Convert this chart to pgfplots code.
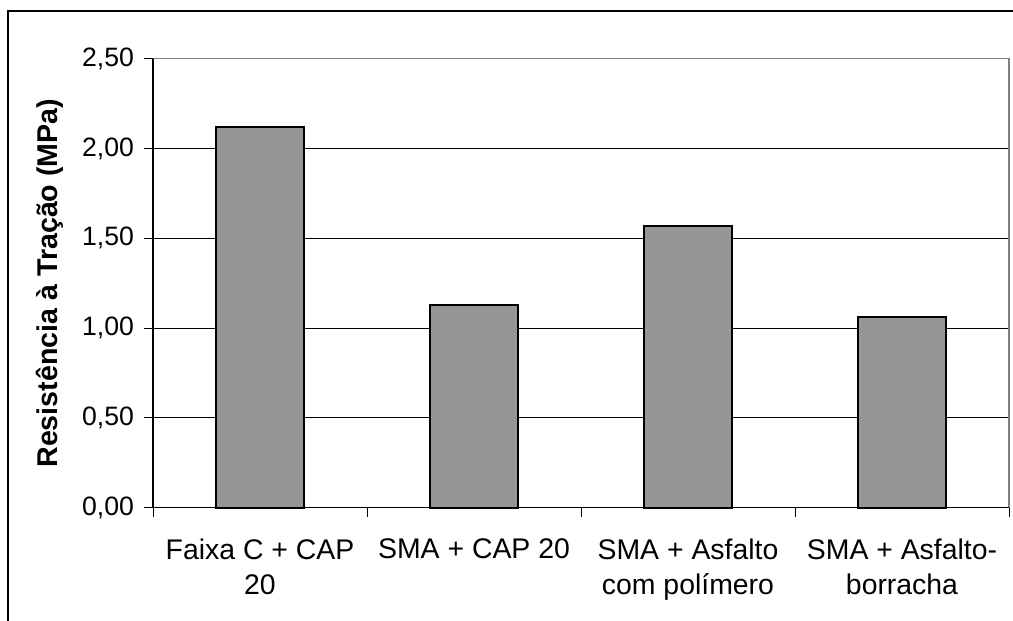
\documentclass[border=0pt]{standalone}
\usepackage{fontspec}
\setmainfont{Liberation Sans}
\usepackage{pgfplots}
\pgfplotsset{compat=1.18}
\definecolor{barfill}{HTML}{969696}
\definecolor{framegray}{HTML}{808080}

\begin{document}
\begin{tikzpicture}
\useasboundingbox (0,0) rectangle (506.5bp,310.5bp);
% outer chart frame
\draw[line width=0.6bp] (4bp,-20bp) -- (4bp,305bp) -- (530bp,305bp);
\begin{axis}[
  at={(76.5bp,56.65bp)}, anchor=south west,
  scale only axis, width=428bp, height=224.5bp,
  xmin=0, xmax=4, ymin=0, ymax=2.5,
  axis line style={draw=none},
  tick align=outside, tick pos=left,
  ytick={0,0.5,1,1.5,2,2.5},
  major tick length=4.5bp,
  tick style={black, line width=0.5bp},
  ymajorgrids, major grid style={black, line width=0.5bp},
  yticklabel style={font=\fontsize{13.3bp}{15bp}\selectfont, xshift=-1.5bp,
    /pgf/number format/.cd, fixed, fixed zerofill, precision=2, use comma, assume math mode=true},
  xtick={0,1,2,3,4}, xticklabels={},
  extra x ticks={0.5,1.5,2.5,3.5},
  extra x tick labels={{Faixa C + CAP\\20},{SMA + CAP 20},{SMA + Asfalto\\com polímero},{SMA + Asfalto-\\borracha}},
  extra x tick style={major tick length=0pt,
    xticklabel style={align=center, anchor=north, yshift=-12bp,
      font=\fontsize{14.2bp}{17.5bp}\selectfont}},
  ylabel={Resistência à Tração (MPa)},
  every axis y label/.style={at={(axis description cs:0,0.5)}, xshift=-51.5bp, rotate=90, anchor=center,
    font=\fontsize{14.3bp}{16bp}\selectfont\bfseries},
  ybar, bar width=43.8bp,
  clip=false,
]
\addplot[fill=barfill, draw=black, line width=0.9bp] coordinates {(0.5,2.12) (1.5,1.13) (2.5,1.57) (3.5,1.06)};
\draw[framegray, line width=0.7bp] (rel axis cs:0,1) -- (rel axis cs:1,1) -- (rel axis cs:1,0);
\draw[black, line width=0.6bp] (rel axis cs:0,1) -- (rel axis cs:0,0) -- (rel axis cs:1,0);
\end{axis}
\end{tikzpicture}
\end{document}
